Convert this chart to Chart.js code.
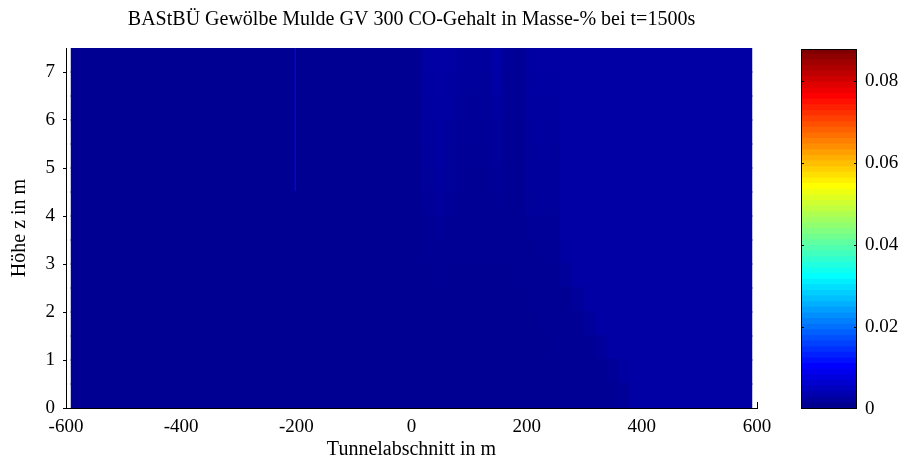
<!DOCTYPE html>
<html>
<head>
<meta charset="utf-8">
<script src="https://cdn.jsdelivr.net/npm/chart.js@4.4.1/dist/chart.umd.min.js"></script>
<style>
  html, body { margin: 0; padding: 0; background: #fff; }
  #wrap { position: relative; width: 903px; height: 462px; }
  #main { position: absolute; left: 0; top: 0; }
  #cbar { position: absolute; left: 780px; top: 0; }
</style>
</head>
<body>
<div id="wrap">
  <canvas id="main" width="780" height="462"></canvas>
  <canvas id="cbar" width="123" height="462"></canvas>
</div>
<script>
// tunnel section (m), cell edges along x
const xEdges = [-590, -201, -199, 0, 20, 40, 60, 80, 100, 120, 140, 160, 180,
  200, 220, 240, 260, 280, 300, 320, 340, 360, 380, 400, 590];
// height z (m), row centres, top row first
const zRows = [7.25, 6.75, 6.25, 5.75, 5.25, 4.75, 4.25, 3.75, 3.25, 2.75, 2.25, 1.75, 1.25, 0.75, 0.25];
// CO content in mass-% at t=1500s, one row per zRows entry
const coValues = [
  [0.0002, 0.0100, 0.0002, 0.0003, 0.0017, 0.0018, 0.0017, 0.0013, 0.0011, 0.0012, 0.0020, 0.0007, 0.0006, 0.0016, 0.0017, 0.0017, 0.0018, 0.0018, 0.0018, 0.0018, 0.0018, 0.0018, 0.0018, 0.0018],
  [0.0002, 0.0100, 0.0002, 0.0003, 0.0016, 0.0017, 0.0015, 0.0012, 0.0009, 0.0010, 0.0018, 0.0006, 0.0006, 0.0015, 0.0016, 0.0016, 0.0018, 0.0018, 0.0018, 0.0018, 0.0018, 0.0018, 0.0018, 0.0018],
  [0.0002, 0.0100, 0.0002, 0.0003, 0.0015, 0.0016, 0.0014, 0.0010, 0.0008, 0.0009, 0.0015, 0.0006, 0.0006, 0.0014, 0.0015, 0.0015, 0.0018, 0.0018, 0.0018, 0.0018, 0.0018, 0.0018, 0.0018, 0.0018],
  [0.0002, 0.0100, 0.0002, 0.0003, 0.0013, 0.0015, 0.0012, 0.0008, 0.0007, 0.0007, 0.0012, 0.0005, 0.0005, 0.0013, 0.0014, 0.0013, 0.0018, 0.0018, 0.0018, 0.0018, 0.0018, 0.0018, 0.0018, 0.0018],
  [0.0002, 0.0100, 0.0002, 0.0002, 0.0011, 0.0014, 0.0010, 0.0007, 0.0006, 0.0006, 0.0009, 0.0005, 0.0005, 0.0012, 0.0013, 0.0012, 0.0018, 0.0018, 0.0018, 0.0018, 0.0018, 0.0018, 0.0018, 0.0018],
  [0.0002, 0.0100, 0.0002, 0.0002, 0.0010, 0.0013, 0.0009, 0.0006, 0.0005, 0.0005, 0.0007, 0.0005, 0.0005, 0.0011, 0.0012, 0.0011, 0.0018, 0.0018, 0.0018, 0.0018, 0.0018, 0.0018, 0.0018, 0.0018],
  [0.0002, 0.0002, 0.0002, 0.0002, 0.0008, 0.0011, 0.0007, 0.0005, 0.0005, 0.0005, 0.0006, 0.0005, 0.0005, 0.0010, 0.0011, 0.0010, 0.0018, 0.0018, 0.0018, 0.0018, 0.0018, 0.0018, 0.0018, 0.0018],
  [0.0002, 0.0002, 0.0002, 0.0002, 0.0005, 0.0007, 0.0005, 0.0004, 0.0004, 0.0004, 0.0005, 0.0004, 0.0004, 0.0007, 0.0008, 0.0008, 0.0018, 0.0018, 0.0018, 0.0018, 0.0018, 0.0018, 0.0018, 0.0018],
  [0.0002, 0.0002, 0.0002, 0.0002, 0.0004, 0.0005, 0.0004, 0.0004, 0.0004, 0.0004, 0.0004, 0.0004, 0.0004, 0.0005, 0.0006, 0.0006, 0.0016, 0.0018, 0.0018, 0.0018, 0.0018, 0.0018, 0.0018, 0.0018],
  [0.0002, 0.0002, 0.0002, 0.0002, 0.0003, 0.0004, 0.0003, 0.0003, 0.0003, 0.0003, 0.0003, 0.0003, 0.0004, 0.0004, 0.0005, 0.0005, 0.0010, 0.0018, 0.0018, 0.0018, 0.0018, 0.0018, 0.0018, 0.0018],
  [0.0002, 0.0002, 0.0002, 0.0002, 0.0003, 0.0003, 0.0003, 0.0003, 0.0003, 0.0003, 0.0003, 0.0003, 0.0003, 0.0004, 0.0004, 0.0004, 0.0004, 0.0010, 0.0018, 0.0018, 0.0018, 0.0018, 0.0018, 0.0018],
  [0.0002, 0.0002, 0.0002, 0.0002, 0.0003, 0.0003, 0.0003, 0.0003, 0.0003, 0.0003, 0.0003, 0.0003, 0.0003, 0.0003, 0.0004, 0.0004, 0.0004, 0.0005, 0.0012, 0.0018, 0.0018, 0.0018, 0.0018, 0.0018],
  [0.0002, 0.0002, 0.0002, 0.0002, 0.0002, 0.0003, 0.0003, 0.0003, 0.0003, 0.0003, 0.0003, 0.0003, 0.0003, 0.0003, 0.0003, 0.0004, 0.0004, 0.0004, 0.0005, 0.0010, 0.0018, 0.0018, 0.0018, 0.0018],
  [0.0002, 0.0002, 0.0002, 0.0002, 0.0002, 0.0002, 0.0003, 0.0003, 0.0003, 0.0003, 0.0003, 0.0003, 0.0003, 0.0003, 0.0003, 0.0003, 0.0004, 0.0004, 0.0004, 0.0004, 0.0007, 0.0015, 0.0018, 0.0018],
  [0.0002, 0.0002, 0.0002, 0.0002, 0.0002, 0.0002, 0.0002, 0.0002, 0.0003, 0.0003, 0.0003, 0.0003, 0.0003, 0.0003, 0.0003, 0.0003, 0.0004, 0.0004, 0.0004, 0.0004, 0.0004, 0.0008, 0.0017, 0.0018]
];
const xTicks = [-600, -400, -200, 0, 200, 400, 600];
const zTicks = [0, 1, 2, 3, 4, 5, 6, 7];
const cbTicks = [0, 0.02, 0.04, 0.06, 0.08];
const cbMax = 0.0878;
const cbLevels = 64;

Chart.defaults.font.family = '"Liberation Serif", "Times New Roman", serif';
Chart.defaults.color = '#000';

// matlab jet, t in 0..1
function jet(t){
  const c = v => Math.round(255 * Math.max(0, Math.min(1, v)));
  const r = c(Math.min(4*t - 1.5, -4*t + 4.5));
  const g = c(Math.min(4*t - 0.5, -4*t + 3.5));
  const b = c(Math.min(4*t + 0.5, -4*t + 2.5));
  return `rgb(${r},${g},${b})`;
}

function valueColor(v){
  return jet(Math.min(1, v / cbMax + 1 / cbLevels));
}

const cells = [];
zRows.forEach((z, r) => {
  for(let c = 0; c < xEdges.length - 1; c++){
    cells.push({y: z, x: [xEdges[c], xEdges[c+1]], v: coValues[r][c]});
  }
});

const endTick = {
  id: 'endTick',
  afterDraw(chart){
    const {ctx, scales: {x, y}} = chart;
    const px = Math.round(x.getPixelForValue(xTicks[xTicks.length - 1])) + 0.5;
    const py = y.getPixelForValue(0);
    ctx.save();
    ctx.strokeStyle = '#000';
    ctx.lineWidth = 1;
    ctx.beginPath();
    ctx.moveTo(px, py);
    ctx.lineTo(px, py - 6);
    ctx.stroke();
    ctx.restore();
  }
};

new Chart(document.getElementById('main'), {
  type: 'bar',
  data: {
    datasets: [{
      data: cells,
      backgroundColor: ctx => ctx.raw ? valueColor(ctx.raw.v) : '#00008f',
      borderWidth: 0,
      inflateAmount: 1,
      grouped: false,
      barPercentage: 1,
      categoryPercentage: 1
    }]
  },
  options: {
    indexAxis: 'y',
    responsive: false,
    animation: false,
    events: [],
    layout: { padding: { right: 23 } },
    plugins: {
      legend: { display: false },
      tooltip: { enabled: false },
      title: {
        display: true,
        text: 'BAStBÜ Gewölbe Mulde GV 300 CO-Gehalt in Masse-% bei t=1500s',
        font: { size: 20, weight: 'normal' },
        color: '#000',
        fullSize: false,
        padding: { top: 8, bottom: 16 }
      }
    },
    scales: {
      x: {
        type: 'linear',
        min: -600, max: 600,
        afterBuildTicks: s => { s.ticks = xTicks.map(v => ({value: v})); },
        ticks: { font: { size: 19 }, padding: 8, maxRotation: 0, autoSkip: false },
        grid: { display: false, drawTicks: false },
        border: { color: '#000', width: 1 },
        title: { display: true, text: 'Tunnelabschnitt in m', font: { size: 20 }, padding: { top: 0, bottom: 0 } },
        afterFit: s => { s.height = 54; }
      },
      y: {
        type: 'linear',
        offset: false,
        min: 0, max: 7.5,
        afterBuildTicks: s => { s.ticks = zTicks.map(v => ({value: v})); },
        ticks: { font: { size: 19 }, padding: 8 },
        grid: { display: true, drawOnChartArea: false, drawTicks: true, tickLength: 3, color: '#000', offset: false },
        border: { color: '#000', width: 1 },
        title: { display: true, text: 'Höhe z in m', font: { size: 20 }, padding: { top: 8, bottom: 0 } },
        afterFit: s => { s.width = 66; }
      }
    }
  },
  plugins: [endTick]
});

// colorbar
const cbFrame = {
  id: 'cbFrame',
  afterDraw(chart){
    const {ctx, chartArea: a, scales: {y}} = chart;
    ctx.save();
    ctx.strokeStyle = '#000';
    ctx.lineWidth = 1;
    ctx.strokeRect(Math.round(a.left) + 0.5, Math.round(a.top) + 0.5, Math.round(a.right - a.left) - 1, Math.round(a.bottom - a.top) - 1);
    ctx.beginPath();
    cbTicks.forEach(v => {
      if(v === 0) return;
      const py = Math.round(y.getPixelForValue(v)) + 0.5;
      ctx.moveTo(a.left, py); ctx.lineTo(a.left + 3, py);
      ctx.moveTo(a.right - 3, py); ctx.lineTo(a.right, py);
    });
    ctx.stroke();
    ctx.restore();
  }
};

const cbDatasets = [];
for(let k = 0; k < cbLevels; k++){
  cbDatasets.push({
    data: [[k * cbMax / cbLevels, (k + 1) * cbMax / cbLevels]],
    backgroundColor: jet((k + 1) / cbLevels),
    borderWidth: 0,
    inflateAmount: 1,
    grouped: false,
    barPercentage: 1,
    categoryPercentage: 1
  });
}

new Chart(document.getElementById('cbar'), {
  type: 'bar',
  data: { labels: [''], datasets: cbDatasets },
  options: {
    responsive: false,
    animation: false,
    events: [],
    layout: { padding: { left: 21, top: 49, bottom: 53 } },
    plugins: { legend: { display: false }, tooltip: { enabled: false } },
    scales: {
      x: { display: false },
      y: {
        position: 'right',
        min: 0, max: cbMax,
        afterBuildTicks: s => { s.ticks = cbTicks.map(v => ({value: v})); },
        ticks: { font: { size: 19 }, padding: 8, callback: v => String(+v.toFixed(2)) },
        grid: { display: false, drawTicks: false },
        border: { display: false },
        afterFit: s => { s.width = 46; }
      }
    }
  },
  plugins: [cbFrame]
});
</script>
</body>
</html>
